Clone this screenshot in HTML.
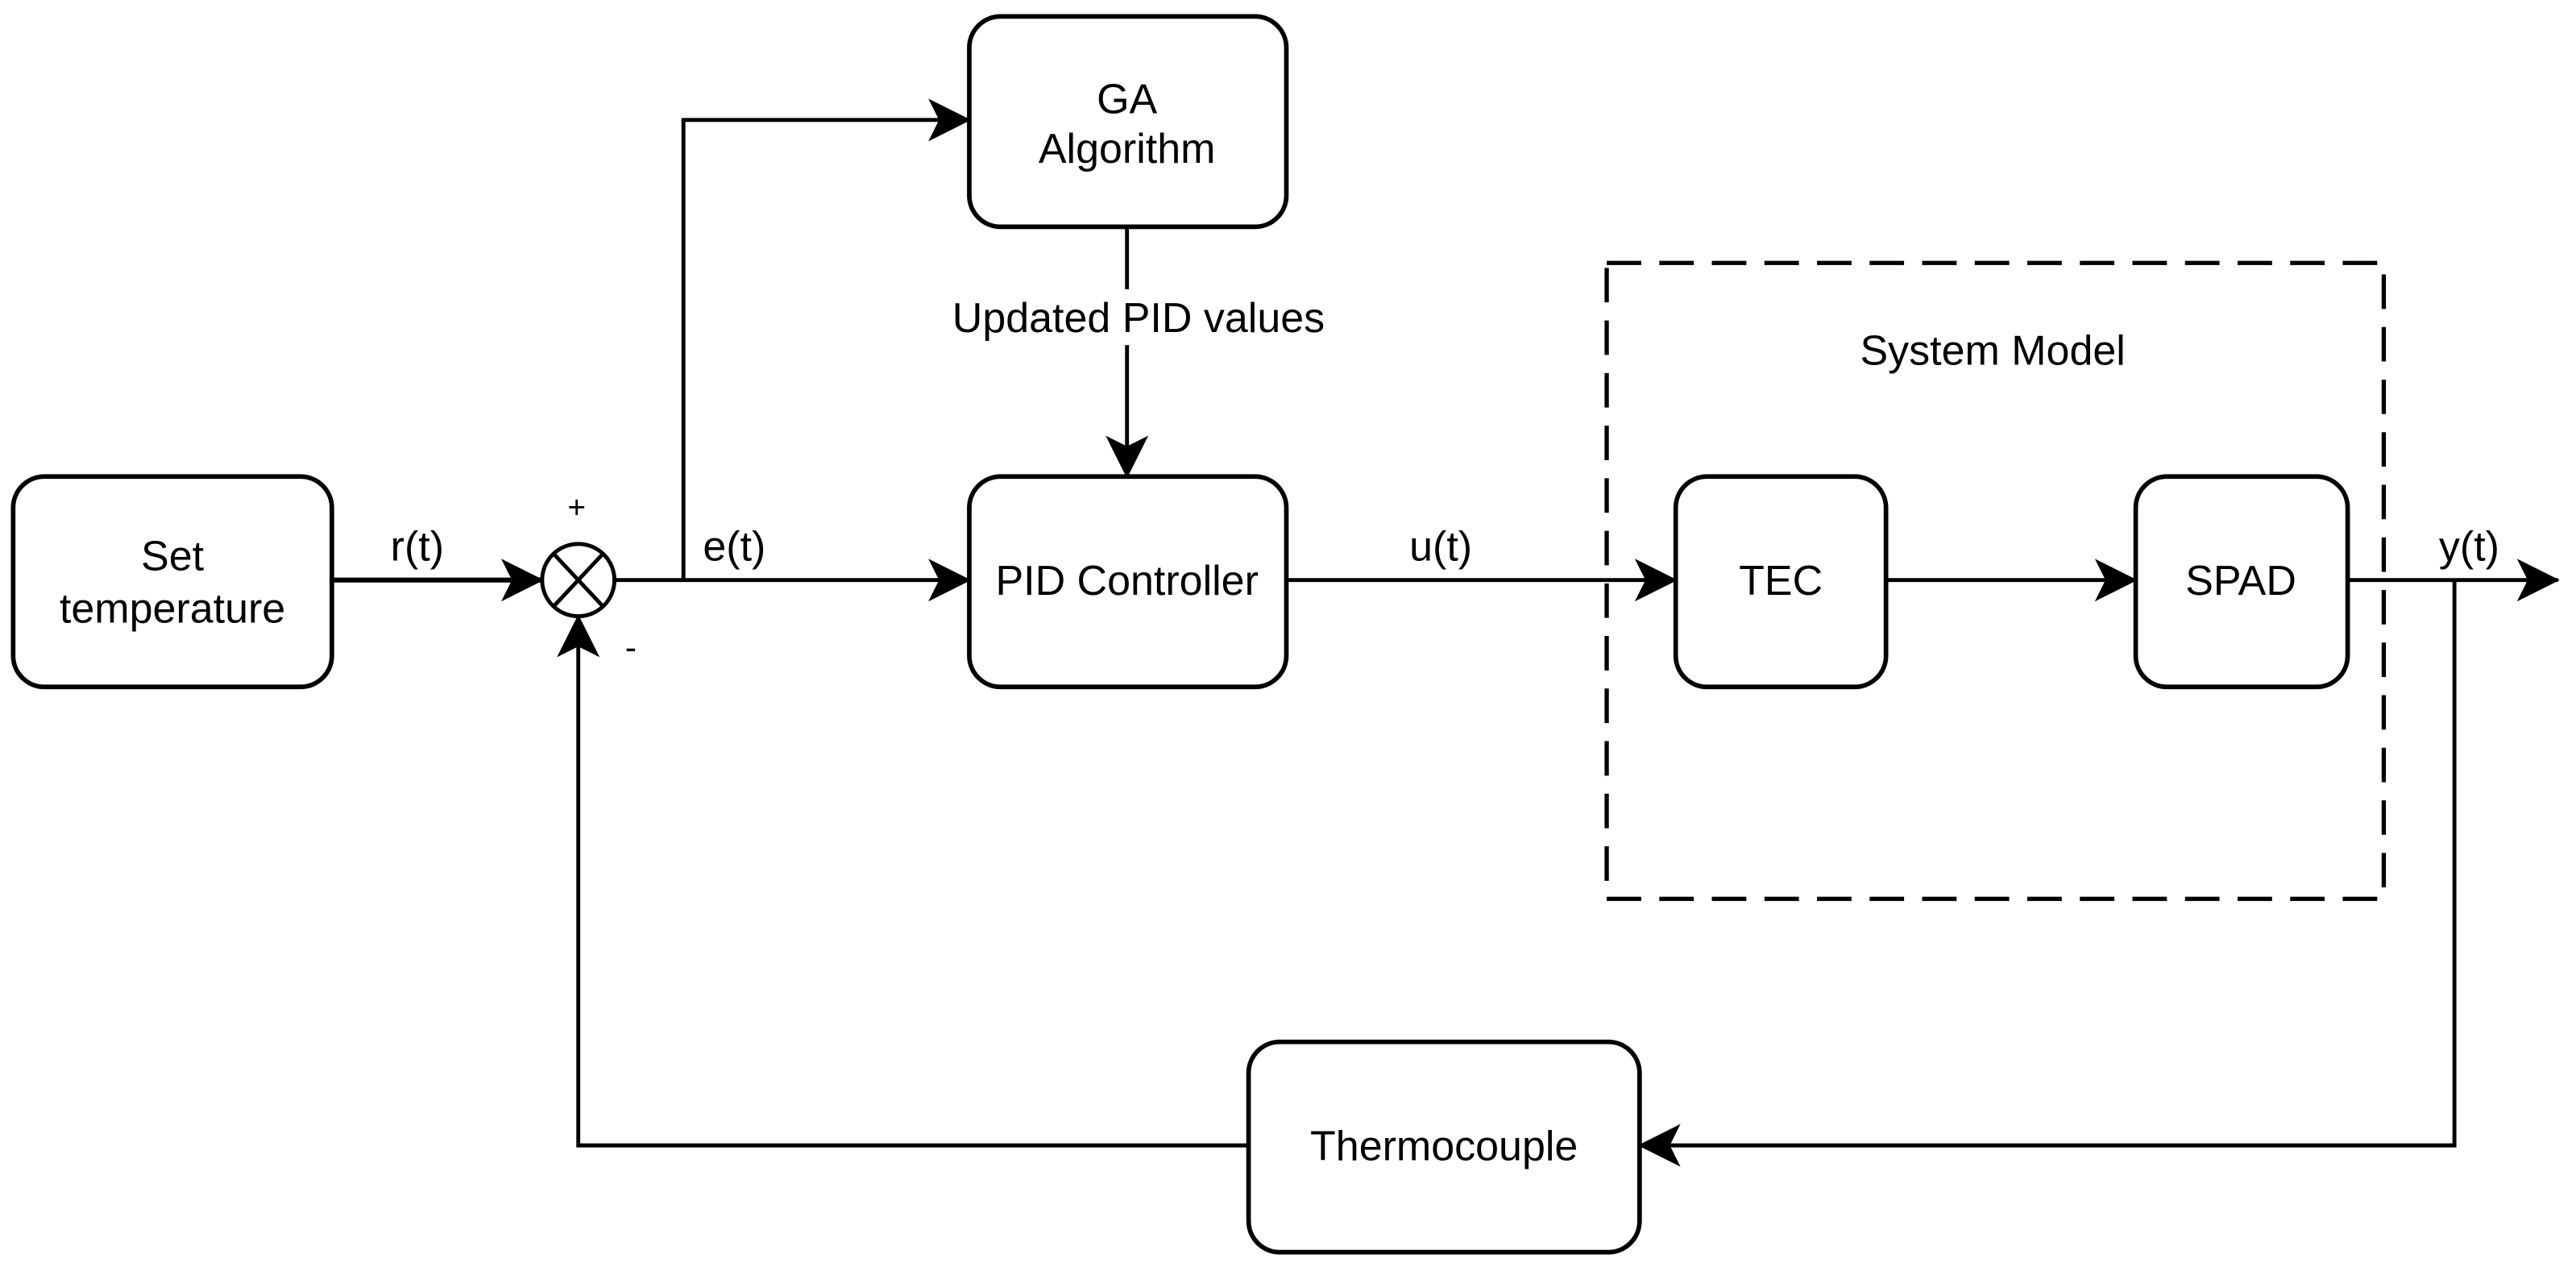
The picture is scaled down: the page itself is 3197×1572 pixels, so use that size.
<!DOCTYPE html>
<html><head><meta charset="utf-8"><style>
html,body{margin:0;padding:0;background:#fff;}
svg{display:block;}
text{font-family:"Liberation Sans",Arial,sans-serif;font-size:25.5px;fill:#000;text-anchor:middle;}
</style></head><body>
<svg width="3197" height="1572" viewBox="0 0 1568 771" preserveAspectRatio="none" xmlns="http://www.w3.org/2000/svg">
<defs>
<marker id="a" viewBox="0 0 24 24" refX="23" refY="12" markerWidth="26" markerHeight="28" markerUnits="userSpaceOnUse" orient="auto">
<path d="M0,0 L24,12 L0,24 L6,12 Z" fill="#000"/>
</marker>
</defs>
<g fill="#fff" stroke="#000" stroke-width="2.8">
<rect x="8" y="290" width="194" height="128" rx="19"/>
<rect x="590" y="10" width="193" height="128" rx="19"/>
<rect x="590" y="290" width="193" height="128" rx="19"/>
<rect x="1020" y="290" width="128" height="128" rx="19"/>
<rect x="1300" y="290" width="129" height="128" rx="19"/>
<rect x="760" y="634" width="238" height="128" rx="19"/>
</g>
<rect x="978" y="160" width="473" height="387" fill="none" stroke="#000" stroke-width="2.6" stroke-dasharray="21,11"/>
<g fill="none" stroke="#000" stroke-width="2.4">
<circle cx="352" cy="353" r="22"/>
<line x1="337" y1="337" x2="367" y2="369"/>
<line x1="367" y1="337" x2="337" y2="369"/>
<line x1="202" y1="353" x2="330" y2="353" stroke-width="3" marker-end="url(#a)"/>
<line x1="374" y1="353" x2="590" y2="353" marker-end="url(#a)"/>
<polyline points="416,353 416,73 590,73" marker-end="url(#a)"/>
<line x1="686" y1="138" x2="686" y2="290" marker-end="url(#a)"/>
<line x1="783" y1="353" x2="1020" y2="353" marker-end="url(#a)"/>
<line x1="1148" y1="353" x2="1300" y2="353" marker-end="url(#a)"/>
<line x1="1429" y1="353" x2="1557" y2="353" marker-end="url(#a)"/>
<polyline points="1494,353 1494,697 998,697" marker-end="url(#a)"/>
<polyline points="760,697 352,697 352,375" marker-end="url(#a)"/>
</g>
<rect x="574" y="176" width="240" height="34" fill="#fff"/>
<text x="105" y="347">Set</text>
<text x="105" y="379">temperature</text>
<text x="686" y="69">GA</text>
<text x="686" y="99">Algorithm</text>
<text x="693" y="202">Updated PID values</text>
<text x="686" y="362">PID Controller</text>
<text x="1084" y="362">TEC</text>
<text x="1364" y="362">SPAD</text>
<text x="879" y="706">Thermocouple</text>
<text x="1213" y="222">System Model</text>
<text x="254" y="341">r(t)</text>
<text x="447" y="341">e(t)</text>
<text x="877" y="341">u(t)</text>
<text x="1503" y="341">y(t)</text>
<text x="351" y="315" style="font-size:19px">+</text>
<text x="384" y="401" style="font-size:21px">-</text>
</svg>
</body></html>
